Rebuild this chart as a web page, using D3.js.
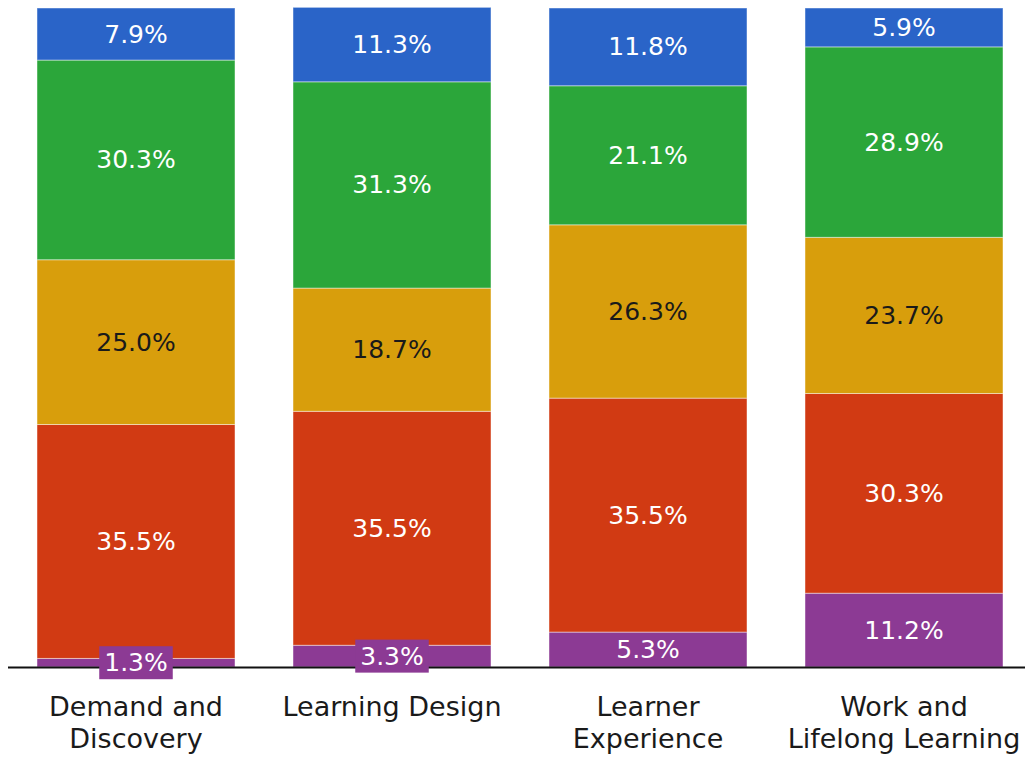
<!DOCTYPE html>
<html>
<head>
<meta charset="utf-8">
<script src="https://cdn.jsdelivr.net/npm/d3@7"></script>
<style>
  html, body { margin: 0; padding: 0; background: #fff; }
  svg { display: block; font-family: "DejaVu Sans", "Noto Sans", sans-serif; }
</style>
</head>
<body>
<svg id="chart" width="1025" height="757"></svg>
<script>
// Survey areas and the share (%) of responses per rating level, bottom to top
const categories = ["Demand and\nDiscovery", "Learning Design", "Learner\nExperience", "Work and\nLifelong Learning"];
const levels = ["purple", "red", "gold", "green", "blue"];
const purpleValues = [1.3, 3.3, 5.3, 11.2];
const redValues    = [35.5, 35.5, 35.5, 30.3];
const goldValues   = [25.0, 18.7, 26.3, 23.7];
const greenValues  = [30.3, 31.3, 21.1, 28.9];
const blueValues   = [7.9, 11.3, 11.8, 5.9];

const seriesValues = [purpleValues, redValues, goldValues, greenValues, blueValues];
const fills = ["#8C3A94", "#D13A13", "#D89E0C", "#2BA63A", "#2A64C8"];
const textColors = ["#fff", "#fff", "#1a1a1a", "#fff", "#fff"];

const rows = categories.map((c, i) => {
  const r = { category: c };
  levels.forEach((k, j) => r[k] = seriesValues[j][i]);
  return r;
});

const svg = d3.select("#chart");
const baseY = 667, topY = 8;

const x = d3.scaleBand()
  .domain(categories)
  .range([8, 1032])
  .paddingInner(0.2266)
  .paddingOuter(0.1133);

const y = d3.scaleLinear().domain([0, 100]).range([baseY, topY]);

const stack = d3.stack().keys(levels);
const layers = stack(rows);

const g = svg.append("g");

layers.forEach((layer, li) => {
  g.selectAll(null)
    .data(layer)
    .join("rect")
    .attr("x", d => x(d.data.category))
    .attr("width", x.bandwidth())
    .attr("y", d => y(d[1]))
    .attr("height", d => y(d[0]) - y(d[1]))
    .attr("fill", fills[li])
    .attr("stroke", "rgba(255,255,255,0.45)")
    .attr("stroke-width", 1);
});

// Baseline axis
svg.append("line")
  .attr("x1", 8).attr("x2", 1025)
  .attr("y1", baseY + 0.5).attr("y2", baseY + 0.5)
  .attr("stroke", "#111").attr("stroke-width", 2);

// Value labels; thin segments get a boxed label centred on the segment
const fontSize = 25;
layers.forEach((layer, li) => {
  layer.forEach(d => {
    const v = d[1] - d[0];
    const cx = x(d.data.category) + x.bandwidth() / 2;
    const cy = (y(d[0]) + y(d[1])) / 2;
    const label = v.toFixed(1) + "%";
    const small = (y(d[0]) - y(d[1])) < 30;
    if (small) {
      const boxH = 33;
      const lg = svg.append("g");
      const t = lg.append("text")
        .attr("x", cx).attr("y", cy)
        .attr("text-anchor", "middle")
        .attr("dominant-baseline", "central")
        .attr("font-size", fontSize)
        .attr("fill", "#fff")
        .text(label);
      const w = t.node().getComputedTextLength() + 10;
      lg.insert("rect", "text")
        .attr("x", cx - w / 2).attr("y", cy - boxH / 2)
        .attr("width", w).attr("height", boxH)
        .attr("fill", fills[li]);
    } else {
      svg.append("text")
        .attr("x", cx).attr("y", cy)
        .attr("text-anchor", "middle")
        .attr("dominant-baseline", "central")
        .attr("font-size", fontSize)
        .attr("fill", textColors[li])
        .text(label);
    }
  });
});

// Category labels under the axis
categories.forEach(c => {
  const cx = x(c) + x.bandwidth() / 2;
  const lines = c.split("\n");
  const t = svg.append("text")
    .attr("text-anchor", "middle")
    .attr("font-size", 27)
    .attr("fill", "#1a1a1a");
  lines.forEach((ln, i) => {
    t.append("tspan").attr("x", cx).attr("y", 716 + i * 32).text(ln);
  });
});
</script>
</body>
</html>
